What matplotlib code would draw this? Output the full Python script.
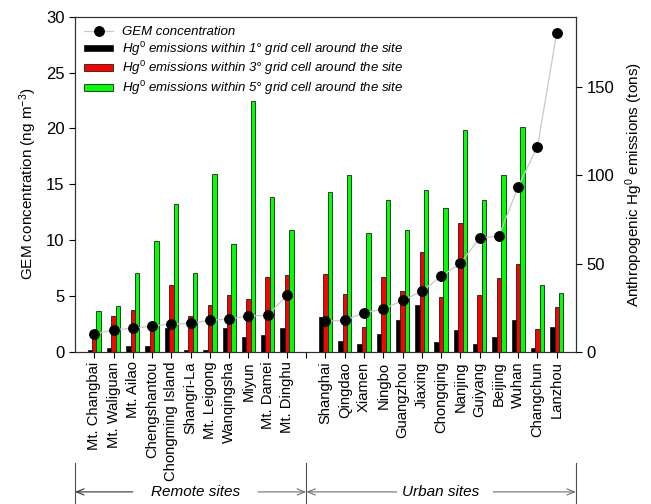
import matplotlib
matplotlib.use("Agg")
import matplotlib.pyplot as plt
import matplotlib.transforms as mtransforms
from matplotlib.patches import Patch
from matplotlib.lines import Line2D
import numpy as np

plt.rcParams['font.family'] = ['Liberation Sans', 'DejaVu Sans']
plt.rcParams['mathtext.fontset'] = 'custom'
plt.rcParams['mathtext.rm'] = 'Liberation Sans'
plt.rcParams['mathtext.it'] = 'Liberation Sans:italic'

# Sites
remote_sites = ["Mt. Changbai", "Mt. Waliguan", "Mt. Ailao", "Chengshantou",
                "Chongming Island", "Shangri-La", "Mt. Leigong", "Wanqingsha",
                "Miyun", "Mt. Damei", "Mt. Dinghu"]
urban_sites = ["Shanghai", "Qingdao", "Xiamen", "Ningbo", "Guangzhou", "Jiaxing",
               "Chongqing", "Nanjing", "Guiyang", "Beijing", "Wuhan",
               "Changchun", "Lanzhou"]

# GEM concentration (ng m-3)
gem_remote = [1.56, 1.97, 2.09, 2.30, 2.48, 2.54, 2.81, 2.93, 3.20, 3.26, 5.05]
gem_urban = [2.72, 2.81, 3.49, 3.80, 4.60, 5.41, 6.75, 7.92, 10.18, 10.36,
             14.78, 18.36, 28.54]

# Anthropogenic Hg0 emissions (tons) within 1, 3 and 5 degree grid cells
emis1_remote = [1.0, 2.0, 3.4, 3.2, 13.5, 0.8, 0.8, 13.5, 8.3, 9.7, 13.3]
emis1_urban = [19.5, 6.3, 4.4, 9.9, 18.0, 26.5, 5.3, 12.5, 4.4, 8.3, 17.8, 2.1, 14.2]
emis3_remote = [10.0, 20.5, 23.9, 16.0, 37.9, 20.5, 26.4, 32.2, 29.8, 42.3, 43.6]
emis3_urban = [44.3, 32.6, 14.0, 42.6, 34.7, 56.6, 30.9, 73.1, 32.4, 41.9, 49.8,
               12.7, 25.6]
emis5_remote = [23.1, 25.8, 44.7, 62.7, 83.9, 44.9, 100.8, 61.0, 142.0, 88.0, 69.3]
emis5_urban = [90.3, 100.0, 67.3, 86.2, 69.1, 91.7, 81.3, 126.0, 86.0, 100.4,
               127.5, 37.9, 33.3]

# one empty slot separates the two groups of sites
n_r, n_u = len(remote_sites), len(urban_sites)
pos_r = np.arange(n_r)
pos_u = np.arange(n_u) + n_r + 1
pos = np.concatenate([pos_r, pos_u])
labels = remote_sites + urban_sites
emis1 = emis1_remote + emis1_urban
emis3 = emis3_remote + emis3_urban
emis5 = emis5_remote + emis5_urban

fig = plt.figure(figsize=(6.51, 5.04), dpi=100)
ax_em = fig.add_axes([0.1152, 0.3022, 0.7696, 0.6647])
ax_gem = ax_em.twinx()

# emission bars (drawn beneath the concentration points)
w = 0.23
ec = '#202020'
ax_em.bar(pos - w, emis1, w, color='black', edgecolor=ec, linewidth=0.6)
ax_em.bar(pos, emis3, w, color='#ff0000', edgecolor=ec, linewidth=0.6)
ax_em.bar(pos + w, emis5, w, color='#00ff00', edgecolor=ec, linewidth=0.6)

# concentration points, the connecting line broken at the empty slot
for p, g in ((pos_r, gem_remote), (pos_u, gem_urban)):
    ax_gem.plot(p, g, '-', color='#c8c8c8', lw=0.9, zorder=2)
    ax_gem.plot(p, g, 'o', color='black', ms=6.8, zorder=3)

# axis placement: concentration on the left, emissions on the right
ax_em.yaxis.tick_right()
ax_em.yaxis.set_label_position('right')
ax_gem.yaxis.tick_left()
ax_gem.yaxis.set_label_position('left')

ax_em.set_xlim(-1, pos[-1] + 1)
ax_em.set_ylim(0, 190)
ax_gem.set_ylim(0, 30)
ax_em.set_yticks([0, 50, 100, 150])
ax_gem.set_yticks(np.arange(0, 31, 5))

ticks = np.arange(0, pos[-1] + 1)
tick_labels = [''] * len(ticks)
for p, l in zip(pos, labels):
    tick_labels[p] = l
ax_em.set_xticks(ticks)
ax_em.set_xticklabels(tick_labels, rotation=90)

for a in (ax_em, ax_gem):
    a.tick_params(direction='out', length=4, width=0.8, labelsize=12)
    for s in a.spines.values():
        s.set_linewidth(0.8)
        s.set_color('#303030')
ax_em.tick_params(axis='x', labelsize=10.6, pad=3)

ax_gem.set_ylabel('GEM concentration (ng m$^{-3}$)', fontsize=11, labelpad=5)
ax_em.set_ylabel('Anthropogenic Hg$^{0}$ emissions (tons)', fontsize=11, labelpad=7)

handles = [
    Line2D([0], [0], color='#c8c8c8', lw=0.9, marker='o', mfc='black',
           mec='black', ms=6.8),
    Patch(facecolor='black', edgecolor=ec, linewidth=0.6),
    Patch(facecolor='#ff0000', edgecolor=ec, linewidth=0.6),
    Patch(facecolor='#00ff00', edgecolor=ec, linewidth=0.6),
]
names = [
    'GEM concentration',
    r'Hg$^{\mathit{0}}$ emissions within 1° grid cell around the site',
    r'Hg$^{\mathit{0}}$ emissions within 3° grid cell around the site',
    r'Hg$^{\mathit{0}}$ emissions within 5° grid cell around the site',
]
leg = ax_gem.legend(handles, names, loc='upper left', frameon=False,
                    prop={'style': 'italic', 'size': 9.5},
                    bbox_to_anchor=(0.0, 1.0), handlelength=2.2,
                    handleheight=0.4, labelspacing=0.12, handletextpad=0.65,
                    borderaxespad=0.3)

# group brackets under the site names
trans = mtransforms.blended_transform_factory(ax_em.transData, fig.transFigure)
y_top, y_arrow = 0.081, 0.024
for xb in (-1, n_r, pos[-1] + 1):
    ax_em.plot([xb, xb], [y_top, 0], color='#505050', lw=0.8,
               transform=trans, clip_on=False)

groups = [("Remote sites", (n_r - 1) / 2 + 0.25, -1, n_r, 2.0, 8.5, '#303030'),
          ("Urban sites", n_r + 1 + (n_u - 1) / 2, n_r, pos[-1] + 1, 15.7, 20.7, '#707070')]
for text, xc, x0, x1, g0, g1, c in groups:
    ax_em.text(xc, y_arrow, text, transform=trans, ha='center', va='center',
               style='italic', fontsize=11)
    aprops = dict(arrowstyle='->,head_length=0.55,head_width=0.22', lw=0.8,
                  shrinkA=0, shrinkB=0)
    ax_em.annotate('', xy=(x0, y_arrow), xytext=(g0, y_arrow), xycoords=trans,
                   textcoords=trans, arrowprops=dict(color=c, **aprops))
    ax_em.annotate('', xy=(x1, y_arrow), xytext=(g1, y_arrow), xycoords=trans,
                   textcoords=trans, arrowprops=dict(color='#707070', **aprops))

fig.savefig('out.png', dpi=100)
